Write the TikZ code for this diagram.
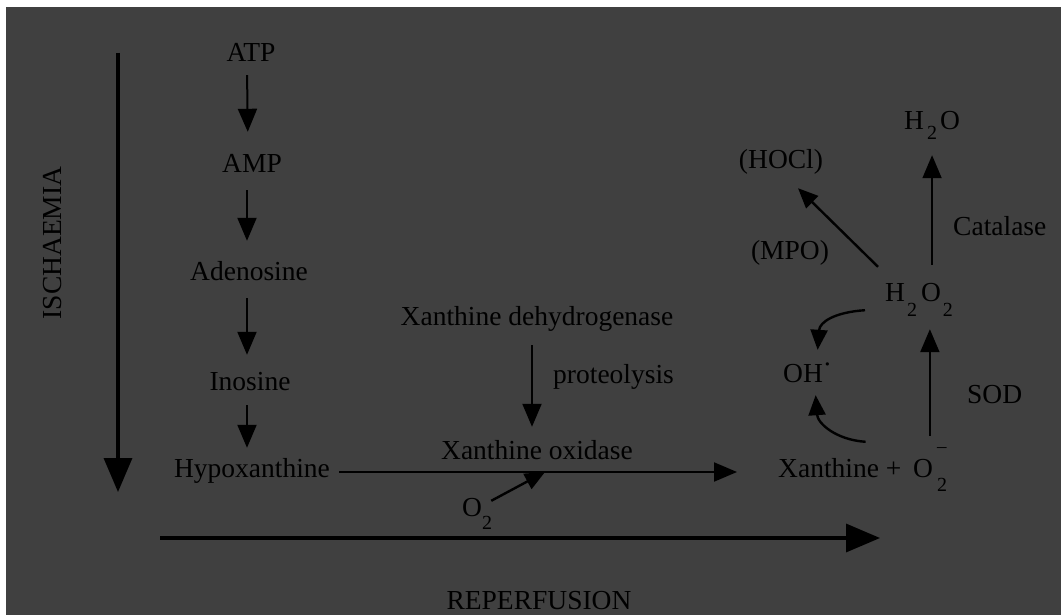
\documentclass[tikz,border=0pt]{standalone}
\usepackage{fontspec}
\setmainfont{Liberation Serif}
\usetikzlibrary{arrows.meta}
\definecolor{bg}{RGB}{64,64,64}
\newcommand\sub[2][15pt]{\raisebox{-#1}{\fontsize{20}{20}\selectfont #2}}
\begin{document}
\begin{tikzpicture}[x=1pt,y=-1pt,
  lbl/.style={inner sep=0pt, text height=19pt, text depth=6pt,
    font=\fontsize{27.5}{30}\selectfont, text=black},
  sarr/.style={draw=black, line width=2pt, -{Triangle[length=23pt,width=19pt]}},
  barr/.style={draw=black, line width=3.5pt, -{Triangle[length=34pt,width=28pt]}},
  carr/.style={draw=black, line width=2.4pt, -{Triangle[length=20pt,width=17pt]}},
]
\useasboundingbox (0,0) rectangle (1061,615);
\fill[white] (0,0) rectangle (1061,615);
\fill[bg] (6,7) rectangle (1061,615);

% left column
\node[lbl, anchor=base] (atp) at (251,62) {ATP};
\node[lbl, anchor=base] (amp) at (252,173) {AMP};
\node[lbl, anchor=base] (ade) at (249,280) {Adenosine};
\node[lbl, anchor=base] (ino) at (250,390) {Inosine};
\node[lbl, anchor=base] (hypo) at (252,477) {Hypoxanthine};

\draw[sarr, shorten <=7pt, shorten >=22pt] ([xshift=-4pt]atp.south) -- ([xshift=-4pt]amp.north);
\draw[sarr, shorten <=11pt, shorten >=20pt] ([xshift=-5pt]amp.south) -- ([xshift=-5pt]amp.south |- ade.north);
\draw[sarr, shorten <=12pt, shorten >=16pt] ([xshift=-2pt]ade.south) -- ([xshift=-2pt]ade.south |- ino.north);
\draw[sarr, shorten <=9pt, shorten >=10pt] ([xshift=-3pt]ino.south) -- ([xshift=-3pt]ino.south |- hypo.north);

% ischaemia
\coordinate (isc1) at (118,53);
\coordinate (isc2) at (118,492);
\draw[barr] (isc1) -- (isc2);
\node[lbl, rotate=90] (isc) at (55,243) {ISCHAEMIA};

% reperfusion
\coordinate (rep1) at (160,538);
\coordinate (rep2) at (880,538);
\draw[barr] (rep1) -- (rep2);
\node[lbl, anchor=base] (rep) at (539,609) {REPERFUSION};

% middle
\node[lbl, anchor=base] (xdh) at (537,325) {Xanthine dehydrogenase};
\node[lbl, anchor=base] (xo) at (537,459) {Xanthine oxidase};
\node[lbl, anchor=base west] (prot) at (553,383) {proteolysis};
\draw[sarr, shorten <=14pt, shorten >=13pt] ([xshift=-5pt]xdh.south) -- ([xshift=-5pt]xo.north);

\node[lbl, anchor=base west] (xplus) at (778,477) {Xanthine +};
\node[lbl, anchor=base west] (sup) at (913,477) {O\kern4pt\rlap{\sub[14pt]{2}}\raisebox{25pt}{\fontsize{19}{19}\selectfont –}};
\draw[sarr, shorten <=9pt, shorten >=41pt] ([yshift=5pt]hypo.base east) -- ([yshift=5pt]xplus.base west);

\node[lbl, anchor=base west] (o2) at (462,516) {O\sub[13pt]{2}};
\coordinate (join) at (545,472);
\draw[carr] ([shift={(-1,4)}]o2.north east) -- (join);

% right part
\node[lbl, anchor=base west] (h2o2) at (885,301) {H\kern2pt\sub{2}\kern4pt O\kern2pt\sub{2}};
\node[lbl, anchor=base west] (h2o) at (904,130) {H\kern3pt\sub[10pt]{2}\kern3pt O};
\node[lbl, anchor=base] (hocl) at (781,168) {(HOCl)};
\node[lbl, anchor=base] (mpo) at (790,259) {(MPO)};
\node[lbl, anchor=base west] (cat) at (953,235) {Catalase};
\node[lbl, anchor=base west] (sod) at (967,403) {SOD};
\node[lbl, anchor=base west] (oh) at (783,382) {OH\raisebox{9pt}{·}};

\draw[sarr, shorten <=22pt, shorten >=22pt] (sup.north) -- (sup.north |- h2o2.south);
\draw[sarr, line width=1.8pt, shorten <=17pt, shorten >=19pt] (h2o2.north -| h2o.south) -- (h2o.south);
\draw[carr] ([shift={(-7,-15)}]h2o2.north west) -- ([shift={(17,14)}]hocl.south);

\draw[carr] ([shift={(-20,3)}]h2o2.south west) .. controls +(-30,2) and +(2,-28) .. ([shift={(10,-13)}]oh.north);
\draw[carr] ([shift={(-36,-16)}]xplus.north east) .. controls +(-30,-2) and +(2,28) .. ([shift={(8,7)}]oh.south);
\end{tikzpicture}
\end{document}
